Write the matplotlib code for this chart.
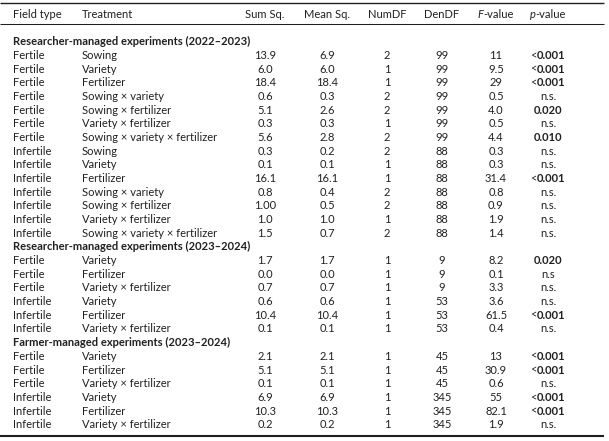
import matplotlib
matplotlib.use("Agg")
import matplotlib.pyplot as plt

plt.rcParams["font.family"] = ["Lato", "DejaVu Sans"]

W, H = 609, 441
INK = "#231f20"
FS = 8.0

columns = ["Field type", "Treatment", "Sum Sq.", "Mean Sq.", "NumDF", "DenDF", "F-value", "p-value"]

sections = [
    "Researcher-managed experiments (2022\u20132023)",
    "Researcher-managed experiments (2023\u20132024)",
    "Farmer-managed experiments (2023\u20132024)",
]
section_sizes = [14, 6, 6]

field_type = (["Fertile"] * 7 + ["Infertile"] * 7
              + ["Fertile"] * 3 + ["Infertile"] * 3
              + ["Fertile"] * 3 + ["Infertile"] * 3)

X = "\u00d7"
treatment = [
    "Sowing", "Variety", "Fertilizer", f"Sowing {X} variety", f"Sowing {X} fertilizer",
    f"Variety {X} fertilizer", f"Sowing {X} variety {X} fertilizer",
    "Sowing", "Variety", "Fertilizer", f"Sowing {X} variety", f"Sowing {X} fertilizer",
    f"Variety {X} fertilizer", f"Sowing {X} variety {X} fertilizer",
    "Variety", "Fertilizer", f"Variety {X} fertilizer",
    "Variety", "Fertilizer", f"Variety {X} fertilizer",
    "Variety", "Fertilizer", f"Variety {X} fertilizer",
    "Variety", "Fertilizer", f"Variety {X} fertilizer",
]
sum_sq = ["13.9", "6.0", "18.4", "0.6", "5.1", "0.3", "5.6",
          "0.3", "0.1", "16.1", "0.8", "1.00", "1.0", "1.5",
          "1.7", "0.0", "0.7", "0.6", "10.4", "0.1",
          "2.1", "5.1", "0.1", "6.9", "10.3", "0.2"]
mean_sq = ["6.9", "6.0", "18.4", "0.3", "2.6", "0.3", "2.8",
           "0.2", "0.1", "16.1", "0.4", "0.5", "1.0", "0.7",
           "1.7", "0.0", "0.7", "0.6", "10.4", "0.1",
           "2.1", "5.1", "0.1", "6.9", "10.3", "0.2"]
num_df = ["2", "1", "1", "2", "2", "1", "2",
          "2", "1", "1", "2", "2", "1", "2",
          "1", "1", "1", "1", "1", "1",
          "1", "1", "1", "1", "1", "1"]
den_df = ["99"] * 7 + ["88"] * 7 + ["9"] * 3 + ["53"] * 3 + ["45"] * 3 + ["345"] * 3
f_value = ["11", "9.5", "29", "0.5", "4.0", "0.5", "4.4",
           "0.3", "0.3", "31.4", "0.8", "0.9", "1.9", "1.4",
           "8.2", "0.1", "3.3", "3.6", "61.5", "0.4",
           "13", "30.9", "0.6", "55", "82.1", "1.9"]
p_value = ["<0.001", "<0.001", "<0.001", "n.s.", "0.020", "n.s.", "0.010",
           "n.s.", "n.s.", "<0.001", "n.s.", "n.s.", "n.s.", "n.s.",
           "0.020", "n.s", "n.s.", "n.s.", "<0.001", "n.s.",
           "<0.001", "<0.001", "n.s.", "<0.001", "<0.001", "n.s."]

# layout in pixels
col_x = [13, 82, 265, 327, 387, 442, 496, 548]
col_ha = ["left", "left", "center", "center", "center", "center", "center", "center"]
header_y = 15
first_y = 41.7
step = 13.68

fig = plt.figure(figsize=(W / 100, H / 100), dpi=100)
ax = fig.add_axes([0, 0, 1, 1])
ax.set_xlim(0, W)
ax.set_ylim(H, 0)
ax.axis("off")
renderer = fig.canvas.get_renderer()


def runs(x, y, parts, ha="center"):
    # parts: list of (text, weight, style); laid out side by side
    objs, widths = [], []
    for s, weight, style in parts:
        t = ax.text(0, y, s, fontsize=FS, color=INK, fontweight=weight,
                    fontstyle=style, ha="left", va="center")
        objs.append(t)
        widths.append(t.get_window_extent(renderer).width)
    total = sum(widths)
    start = x - total / 2 if ha == "center" else x
    for t, w in zip(objs, widths):
        t.set_x(start)
        start += w


# header
for i, name in enumerate(columns):
    if name in ("F-value", "p-value"):
        runs(col_x[i], header_y, [(name[0], "normal", "italic"), (name[1:], "normal", "normal")])
    else:
        ax.text(col_x[i], header_y, name, fontsize=FS, color=INK, ha=col_ha[i], va="center")

ax.plot([0, 604], [2.5, 2.5], color=INK, lw=1.0, solid_capstyle="butt")
ax.plot([0, 604], [24, 24], color=INK, lw=0.75, solid_capstyle="butt")
ax.plot([0, 604], [436, 436], color=INK, lw=1.5, solid_capstyle="butt")

line = 0
row = 0
for title, n in zip(sections, section_sizes):
    ax.text(13, first_y + line * step, title, fontsize=FS, color=INK,
            fontweight="bold", ha="left", va="center")
    line += 1
    for _ in range(n):
        y = first_y + line * step
        cells = [field_type[row], treatment[row], sum_sq[row], mean_sq[row],
                 num_df[row], den_df[row], f_value[row]]
        for i, s in enumerate(cells):
            ax.text(col_x[i], y, s, fontsize=FS, color=INK, ha=col_ha[i], va="center")
        p = p_value[row]
        if p.startswith("<"):
            runs(col_x[7], y, [("<", "normal", "normal"), (p[1:], "bold", "normal")])
        elif p.startswith("n.s"):
            ax.text(col_x[7], y, p, fontsize=FS, color=INK, ha="center", va="center")
        else:
            ax.text(col_x[7], y, p, fontsize=FS, color=INK, fontweight="bold",
                    ha="center", va="center")
        line += 1
        row += 1

fig.savefig("out.png", dpi=100)
